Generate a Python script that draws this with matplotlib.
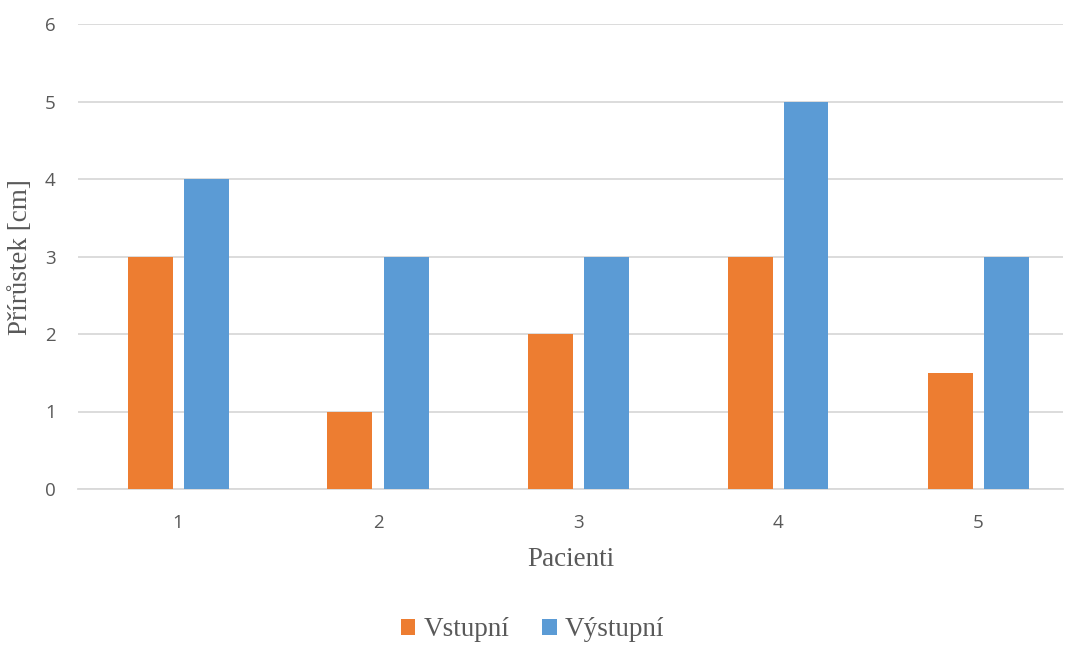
import matplotlib
matplotlib.use('Agg')
import matplotlib.pyplot as plt
import numpy as np

# data
pacienti = ['1', '2', '3', '4', '5']
vstupni = [3, 1, 2, 3, 1.5]
vystupni = [4, 3, 3, 5, 3]

orange = '#ED7D31'
blue = '#5B9BD5'
gray = '#595959'

fig = plt.figure(figsize=(10.65, 6.45), dpi=100)
ax = fig.add_axes([78/1065, (645-489)/645, 985/1065, 465/645])

x = np.arange(1, len(pacienti) + 1)
w = 0.225
ax.bar(x - 0.14, vstupni, w, color=orange, label='Vstupní', zorder=3)
ax.bar(x + 0.14, vystupni, w, color=blue, label='Výstupní', zorder=3)

ax.set_xlim(0.5, 5.425)
ax.set_ylim(0, 6)
ax.set_xticks(x)
ax.set_xticklabels(pacienti)
ax.set_yticks(range(7))
ax.grid(axis='y', color='#D9D9D9', linewidth=1.3, zorder=0)
for s in ['top', 'right', 'left']:
    ax.spines[s].set_visible(False)
ax.spines['bottom'].set_color('#D9D9D9')
ax.spines['bottom'].set_linewidth(1.3)
ax.tick_params(length=0, labelsize=13.5, labelcolor=gray)
ax.tick_params(axis='x', pad=18)
ax.tick_params(axis='y', pad=16)
for t in ax.get_xticklabels() + ax.get_yticklabels():
    t.set_family('Open Sans')

ax.set_xlabel('Pacienti', family='Liberation Serif', fontsize=19.5, color=gray)
ax.xaxis.set_label_coords(0.5, -(547 - 489) / 465)
ax.set_ylabel('Přírůstek [cm]', family='Liberation Serif', fontsize=19.5, color=gray)
ax.yaxis.set_label_coords(-(78 - 33) / 985, (489 - 257) / 465)

fig.legend(loc='center', bbox_to_anchor=(0.5, (645-630)/645), ncol=2, frameon=False,
           prop={'family': 'Liberation Serif', 'size': 19.5}, labelcolor=gray,
           handlelength=0.55, handleheight=0.55, handletextpad=0.3, columnspacing=1.2)

fig.savefig('out.png', dpi=100)
